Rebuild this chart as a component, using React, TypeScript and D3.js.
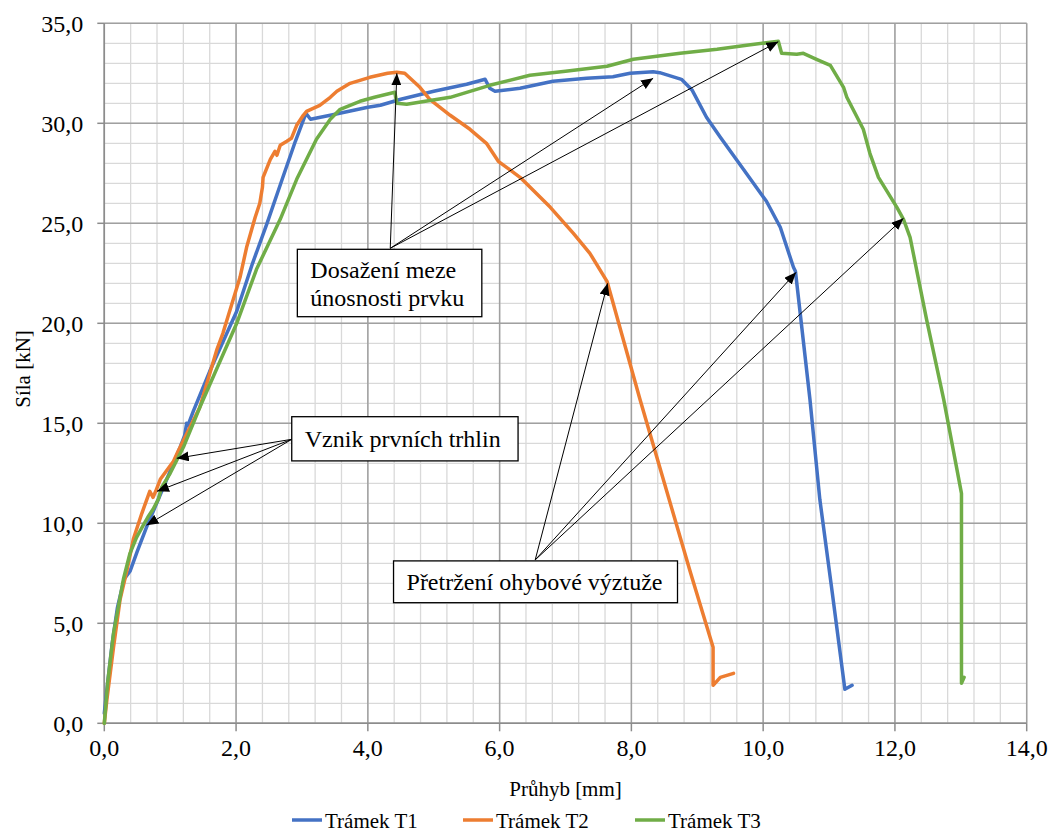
import * as d3 from "d3";

// Průhyb [mm] / Síla [kN] pairs
const t1: [number, number][] = [
  [0, 0.5], [0.05, 2], [0.12, 4], [0.2, 5.8], [0.3, 7.2], [0.39, 7.6], [0.5, 8.6], [0.64, 9.8],
  [0.82, 11.2], [1.0, 12.6], [1.15, 13.8], [1.22, 14.4], [1.25, 15], [1.27, 14.9], [1.35, 15.6],
  [1.6, 17.6], [2.01, 20.6], [2.25, 23], [2.47, 25], [2.7, 27.2], [2.9, 29.1], [3.06, 30.5],
  [3.13, 30.2], [3.43, 30.4], [4.0, 30.8], [4.19, 30.9], [4.5, 31.2], [5.0, 31.6], [5.5, 31.95],
  [5.78, 32.2], [5.85, 31.75], [5.93, 31.6], [6.31, 31.75], [6.81, 32.1], [7.32, 32.25],
  [7.72, 32.33], [7.98, 32.5], [8.33, 32.58], [8.43, 32.53], [8.76, 32.2], [8.92, 31.67],
  [9.14, 30.3], [9.35, 29.3], [9.7, 27.7], [10.05, 26.1], [10.26, 24.8], [10.46, 22.8],
  [10.49, 22.6], [10.71, 16.2], [10.86, 11.2], [11.05, 6.5], [11.24, 1.7], [11.35, 1.9],
];

const t2: [number, number][] = [
  [0, 0], [0.04, 1.2], [0.14, 3.8], [0.24, 6.2], [0.34, 7.6], [0.44, 9.2], [0.57, 10.5],
  [0.69, 11.6], [0.74, 11.3], [0.78, 11.6], [0.85, 12.2], [1.05, 13.1], [1.12, 13.6], [1.3, 14.8],
  [1.45, 15.8], [1.71, 18.7], [1.8, 19.5], [2.06, 22.3], [2.16, 23.8], [2.29, 25.3], [2.36, 26],
  [2.4, 26.8], [2.41, 27.3], [2.52, 28.2], [2.59, 28.6], [2.62, 28.4], [2.67, 28.9], [2.77, 29.1],
  [2.84, 29.25], [2.92, 29.9], [3.02, 30.4], [3.07, 30.6], [3.27, 30.9], [3.43, 31.3], [3.53, 31.6],
  [3.73, 32], [4.03, 32.3], [4.3, 32.5], [4.44, 32.55], [4.56, 32.5], [4.79, 31.8], [4.94, 31.2],
  [5.25, 30.4], [5.55, 29.7], [5.8, 29], [5.9, 28.5], [5.98, 28.1], [6.31, 27.3], [6.77, 25.8],
  [7.12, 24.5], [7.37, 23.5], [7.63, 22.1], [8.13, 16.2], [8.9, 7.5], [9.24, 3.8], [9.24, 1.9],
  [9.35, 2.3], [9.55, 2.5],
];

const t3: [number, number][] = [
  [0, 0], [0.05, 2], [0.14, 4.5], [0.29, 7.2], [0.39, 8.5], [0.49, 9.3], [0.59, 9.9], [0.66, 10.3],
  [0.74, 10.7], [0.82, 11.2], [0.87, 11.8], [1.0, 12.5], [1.2, 13.8], [1.45, 15.8], [1.65, 17.3],
  [2.01, 20], [2.31, 22.7], [2.67, 25.2], [2.92, 27.2], [3.22, 29.2], [3.43, 30.2], [3.58, 30.7],
  [3.88, 31.1], [4.1, 31.3], [4.41, 31.55], [4.44, 31.0], [4.59, 30.95], [5.25, 31.3], [5.85, 31.9],
  [6.46, 32.4], [7.0, 32.6], [7.63, 32.85], [8.03, 33.2], [8.74, 33.5], [9.3, 33.7], [9.75, 33.9],
  [10.23, 34.1], [10.28, 33.5], [10.51, 33.45], [10.61, 33.5], [10.81, 33.2], [11.02, 32.9],
  [11.22, 31.8], [11.27, 31.3], [11.52, 29.7], [11.62, 28.5], [11.75, 27.3], [12.03, 25.8],
  [12.13, 25.2], [12.23, 24.3], [12.48, 20.2], [12.74, 16.2], [13.01, 11.5], [13.01, 2.0],
  [13.05, 2.3],
];

const seriesNames = ["Trámek T1", "Trámek T2", "Trámek T3"];
const seriesColors = ["#4472C4", "#ED7D31", "#70AD47"];
const xTicks = [0, 2, 4, 6, 8, 10, 12, 14];
const yTicks = [0, 5, 10, 15, 20, 25, 30, 35];

// annotations: label lines, box corners [x0,y0,x1,y1] in data units, arrow origin, arrow targets
const notes = [
  {
    lines: ["Dosažení meze", "únosnosti prvku"],
    box: [2.93, 23.7, 5.73, 20.33],
    from: [4.34, 23.75],
    to: [[4.44, 32.5], [8.33, 32.25], [10.23, 34.08]],
  },
  {
    lines: ["Vznik prvních trhlin"],
    box: [2.845, 15.33, 6.28, 13.12],
    from: [2.845, 14.2],
    to: [[1.1, 13.25], [0.8, 11.6], [0.64, 9.9]],
  },
  {
    lines: ["Přetržení ohybové výztuže"],
    box: [4.39, 8.12, 8.7, 6.03],
    from: [6.54, 8.17],
    to: [[7.64, 22.0], [10.5, 22.55], [12.13, 25.25]],
  },
];

const W = 1063;
const H = 835;
const margin = { top: 23.3, right: 36.3, bottom: 111.7, left: 104.3 };
const font = "Liberation Serif, Times New Roman, Times, DejaVu Serif, serif";

export default function App() {
  const x = d3.scaleLinear().domain([0, 14]).range([margin.left, W - margin.right]);
  const y = d3.scaleLinear().domain([0, 35]).range([H - margin.bottom, margin.top]);
  const fmt = (v: number) => d3.format(".1f")(v).replace(".", ",");

  const line = d3
    .line<[number, number]>()
    .x((d) => x(d[0]))
    .y((d) => y(d[1]));

  const minorX = d3.range(0, 14.001, 0.4);
  const minorY = d3.range(0, 35.001, 1);
  const data = [t1, t2, t3];

  const legendX = [292, 463, 635];

  return (
    <svg
      width={W}
      height={H}
      style={{ position: "absolute", left: 0, top: 0, background: "#fff", fontFamily: font }}
    >
      <defs>
        <marker
          id="tip"
          viewBox="0 0 12 10"
          refX="12"
          refY="5"
          markerWidth="12"
          markerHeight="10"
          markerUnits="userSpaceOnUse"
          orient="auto"
        >
          <path d="M0,0 L12,5 L0,10 Z" fill="#000" />
        </marker>
      </defs>

      {/* minor grid */}
      <g stroke="#d9d9d9" strokeWidth={1.3}>
        {minorX.map((v) => (
          <line key={"mx" + v} x1={x(v)} x2={x(v)} y1={y(0)} y2={y(35)} />
        ))}
        {minorY.map((v) => (
          <line key={"my" + v} x1={x(0)} x2={x(14)} y1={y(v)} y2={y(v)} />
        ))}
      </g>
      {/* major grid */}
      <g stroke="#a0a0a0" strokeWidth={1.5}>
        {xTicks.map((v) => (
          <line key={"gx" + v} x1={x(v)} x2={x(v)} y1={y(0)} y2={y(35)} />
        ))}
        {yTicks.map((v) => (
          <line key={"gy" + v} x1={x(0)} x2={x(14)} y1={y(v)} y2={y(v)} />
        ))}
      </g>

      {/* axes */}
      <g stroke="#8c8c8c" strokeWidth={1.5}>
        <line x1={x(0)} x2={x(0)} y1={y(0)} y2={y(35)} />
        <line x1={x(0)} x2={x(14)} y1={y(0)} y2={y(0)} />
        {yTicks.map((v) => (
          <line key={"ty" + v} x1={x(0) - 7} x2={x(0)} y1={y(v)} y2={y(v)} />
        ))}
        {xTicks.map((v) => (
          <line key={"tx" + v} x1={x(v)} x2={x(v)} y1={y(0)} y2={y(0) + 8} />
        ))}
      </g>
      <g fontSize={24} fill="#000">
        {yTicks.map((v) => (
          <text key={"ly" + v} x={x(0) - 21} y={y(v)} dy="0.35em" textAnchor="end">
            {fmt(v)}
          </text>
        ))}
        {xTicks.map((v) => (
          <text key={"lx" + v} x={x(v)} y={y(0) + 33} textAnchor="middle">
            {fmt(v)}
          </text>
        ))}
      </g>
      <text x={(x(0) + x(14)) / 2} y={796} fontSize={21} textAnchor="middle">
        Průhyb [mm]
      </text>
      <text transform="translate(30,369) rotate(-90)" fontSize={21} textAnchor="middle">
        Síla [kN]
      </text>

      {/* series */}
      {data.map((d, i) => (
        <path
          key={seriesNames[i]}
          d={line(d) || ""}
          fill="none"
          stroke={seriesColors[i]}
          strokeWidth={3.5}
          strokeLinejoin="round"
          strokeLinecap="round"
        />
      ))}

      {/* annotations */}
      {notes.map((n, i) => {
        const bx = x(n.box[0]);
        const by = y(n.box[1]);
        const bw = x(n.box[2]) - bx;
        const bh = y(n.box[3]) - by;
        return (
          <g key={"n" + i}>
            {n.to.map((t, j) => (
              <line
                key={j}
                x1={x(n.from[0])}
                y1={y(n.from[1])}
                x2={x(t[0])}
                y2={y(t[1])}
                stroke="#000"
                strokeWidth={1}
                markerEnd="url(#tip)"
              />
            ))}
            <rect x={bx} y={by} width={bw} height={bh} fill="#fff" stroke="#000" strokeWidth={1.3} />
            {n.lines.map((s, k) => (
              <text
                key={k}
                x={bx + 13}
                y={by + (n.lines.length > 1 ? 29 + k * 28 : bh / 2 + 8)}
                fontSize={24}
              >
                {s}
              </text>
            ))}
          </g>
        );
      })}

      {/* legend */}
      {seriesNames.map((s, i) => (
        <g key={"lg" + i}>
          <line
            x1={legendX[i]}
            x2={legendX[i] + 30}
            y1={820}
            y2={820}
            stroke={seriesColors[i]}
            strokeWidth={3.5}
          />
          <text x={legendX[i] + 33} y={828} fontSize={21}>
            {s}
          </text>
        </g>
      ))}
    </svg>
  );
}
